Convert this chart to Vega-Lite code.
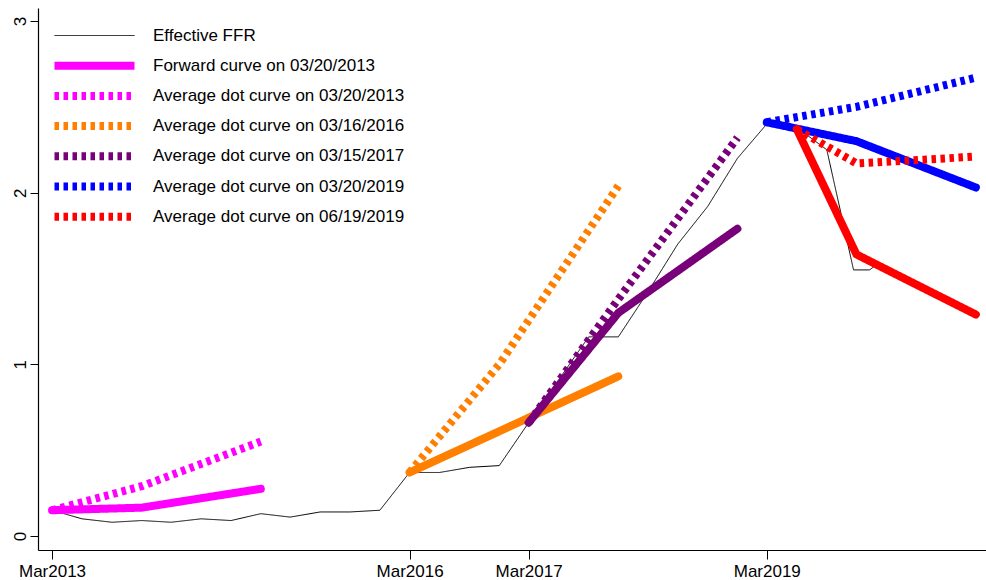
{
  "$schema": "https://vega.github.io/schema/vega-lite/v6.json",
  "width": 948,
  "height": 542,
  "autosize": {"type": "none"},
  "padding": {"left": 38, "top": 8, "right": 0, "bottom": 30},
  "background": "white",
  "config": {
    "view": {"stroke": null},
    "font": "Liberation Sans",
    "axis": {
      "grid": false,
      "title": null,
      "domainColor": "#000000",
      "domainWidth": 1.2,
      "tickColor": "#000000",
      "tickWidth": 1,
      "labelColor": "#000000",
      "labelFont": "Liberation Sans",
      "labelFontSize": 17
    }
  },
  "data": {
    "values": [
      {"series": "Effective FFR", "kind": "Effective", "date": "2013-03-01", "rate": 0.15},
      {"series": "Effective FFR", "kind": "Effective", "date": "2013-06-01", "rate": 0.10},
      {"series": "Effective FFR", "kind": "Effective", "date": "2013-09-01", "rate": 0.08},
      {"series": "Effective FFR", "kind": "Effective", "date": "2013-12-01", "rate": 0.09},
      {"series": "Effective FFR", "kind": "Effective", "date": "2014-03-01", "rate": 0.08},
      {"series": "Effective FFR", "kind": "Effective", "date": "2014-06-01", "rate": 0.10},
      {"series": "Effective FFR", "kind": "Effective", "date": "2014-09-01", "rate": 0.09},
      {"series": "Effective FFR", "kind": "Effective", "date": "2014-12-01", "rate": 0.13},
      {"series": "Effective FFR", "kind": "Effective", "date": "2015-03-01", "rate": 0.11},
      {"series": "Effective FFR", "kind": "Effective", "date": "2015-06-01", "rate": 0.14},
      {"series": "Effective FFR", "kind": "Effective", "date": "2015-09-01", "rate": 0.14},
      {"series": "Effective FFR", "kind": "Effective", "date": "2015-12-01", "rate": 0.15},
      {"series": "Effective FFR", "kind": "Effective", "date": "2016-03-01", "rate": 0.37},
      {"series": "Effective FFR", "kind": "Effective", "date": "2016-06-01", "rate": 0.37},
      {"series": "Effective FFR", "kind": "Effective", "date": "2016-09-01", "rate": 0.40},
      {"series": "Effective FFR", "kind": "Effective", "date": "2016-12-01", "rate": 0.41},
      {"series": "Effective FFR", "kind": "Effective", "date": "2017-03-01", "rate": 0.66},
      {"series": "Effective FFR", "kind": "Effective", "date": "2017-06-01", "rate": 0.91},
      {"series": "Effective FFR", "kind": "Effective", "date": "2017-09-01", "rate": 1.16},
      {"series": "Effective FFR", "kind": "Effective", "date": "2017-12-01", "rate": 1.16},
      {"series": "Effective FFR", "kind": "Effective", "date": "2018-03-01", "rate": 1.42},
      {"series": "Effective FFR", "kind": "Effective", "date": "2018-06-01", "rate": 1.70},
      {"series": "Effective FFR", "kind": "Effective", "date": "2018-09-01", "rate": 1.92},
      {"series": "Effective FFR", "kind": "Effective", "date": "2018-12-01", "rate": 2.20},
      {"series": "Effective FFR", "kind": "Effective", "date": "2019-03-01", "rate": 2.40},
      {"series": "Effective FFR", "kind": "Effective", "date": "2019-06-01", "rate": 2.38},
      {"series": "Effective FFR", "kind": "Effective", "date": "2019-09-01", "rate": 2.25},
      {"series": "Effective FFR", "kind": "Effective", "date": "2019-11-22", "rate": 1.55},
      {"series": "Effective FFR", "kind": "Effective", "date": "2020-01-10", "rate": 1.55},
      {"series": "Effective FFR", "kind": "Effective", "date": "2020-02-01", "rate": 1.58},

      {"series": "Forward curve on 03/20/2013", "kind": "Forward", "date": "2013-03-01", "rate": 0.15},
      {"series": "Forward curve on 03/20/2013", "kind": "Forward", "date": "2013-12-01", "rate": 0.165},
      {"series": "Forward curve on 03/20/2013", "kind": "Forward", "date": "2014-12-01", "rate": 0.275},
      {"series": "Average dot curve on 03/20/2013", "kind": "Dot", "date": "2013-03-01", "rate": 0.15},
      {"series": "Average dot curve on 03/20/2013", "kind": "Dot", "date": "2013-12-01", "rate": 0.29},
      {"series": "Average dot curve on 03/20/2013", "kind": "Dot", "date": "2014-12-01", "rate": 0.55},

      {"series": "Forward curve on 03/16/2016", "kind": "Forward", "date": "2016-03-01", "rate": 0.37},
      {"series": "Forward curve on 03/16/2016", "kind": "Forward", "date": "2016-12-01", "rate": 0.61},
      {"series": "Forward curve on 03/16/2016", "kind": "Forward", "date": "2017-12-01", "rate": 0.93},
      {"series": "Average dot curve on 03/16/2016", "kind": "Dot", "date": "2016-03-01", "rate": 0.37},
      {"series": "Average dot curve on 03/16/2016", "kind": "Dot", "date": "2016-12-01", "rate": 1.0},
      {"series": "Average dot curve on 03/16/2016", "kind": "Dot", "date": "2017-12-01", "rate": 2.04},

      {"series": "Forward curve on 03/15/2017", "kind": "Forward", "date": "2017-03-01", "rate": 0.66},
      {"series": "Forward curve on 03/15/2017", "kind": "Forward", "date": "2017-12-01", "rate": 1.30},
      {"series": "Forward curve on 03/15/2017", "kind": "Forward", "date": "2018-12-01", "rate": 1.79},
      {"series": "Average dot curve on 03/15/2017", "kind": "Dot", "date": "2017-03-01", "rate": 0.66},
      {"series": "Average dot curve on 03/15/2017", "kind": "Dot", "date": "2017-12-01", "rate": 1.38},
      {"series": "Average dot curve on 03/15/2017", "kind": "Dot", "date": "2018-12-01", "rate": 2.32},

      {"series": "Forward curve on 03/20/2019", "kind": "Forward", "date": "2019-03-01", "rate": 2.41},
      {"series": "Forward curve on 03/20/2019", "kind": "Forward", "date": "2019-12-01", "rate": 2.30},
      {"series": "Forward curve on 03/20/2019", "kind": "Forward", "date": "2020-12-01", "rate": 2.03},
      {"series": "Average dot curve on 03/20/2019", "kind": "Dot", "date": "2019-03-01", "rate": 2.41},
      {"series": "Average dot curve on 03/20/2019", "kind": "Dot", "date": "2019-12-01", "rate": 2.50},
      {"series": "Average dot curve on 03/20/2019", "kind": "Dot", "date": "2020-12-01", "rate": 2.67},

      {"series": "Forward curve on 06/19/2019", "kind": "Forward", "date": "2019-06-01", "rate": 2.37},
      {"series": "Forward curve on 06/19/2019", "kind": "Forward", "date": "2019-12-01", "rate": 1.64},
      {"series": "Forward curve on 06/19/2019", "kind": "Forward", "date": "2020-12-01", "rate": 1.29},
      {"series": "Average dot curve on 06/19/2019", "kind": "Dot", "date": "2019-06-01", "rate": 2.37},
      {"series": "Average dot curve on 06/19/2019", "kind": "Dot", "date": "2019-12-01", "rate": 2.17},
      {"series": "Average dot curve on 06/19/2019", "kind": "Dot", "date": "2020-12-01", "rate": 2.21}
    ]
  },
  "encoding": {
    "x": {
      "field": "date",
      "type": "temporal",
      "scale": {
        "type": "utc",
        "domain": [
          {"year": 2013, "month": 1, "date": 17, "utc": true},
          {"year": 2021, "month": 1, "date": 1, "utc": true}
        ]
      },
      "axis": {
        "values": [
          {"year": 2013, "month": 3, "date": 1, "utc": true},
          {"year": 2016, "month": 3, "date": 1, "utc": true},
          {"year": 2017, "month": 3, "date": 1, "utc": true},
          {"year": 2019, "month": 3, "date": 1, "utc": true}
        ],
        "format": "%b%Y",
        "tickSize": 9,
        "labelPadding": 4,
        "labelFlush": false,
        "labelOverlap": false
      }
    },
    "y": {
      "field": "rate",
      "type": "quantitative",
      "scale": {"domain": [-0.0816, 3.0757], "nice": false, "zero": false},
      "axis": {
        "values": [0, 1, 2, 3],
        "tickSize": 8,
        "labelAngle": 270,
        "labelAlign": "center",
        "labelBaseline": "bottom",
        "labelPadding": 1
      }
    },
    "color": {
      "field": "series",
      "type": "nominal",
      "scale": {
        "domain": [
          "Effective FFR",
          "Forward curve on 03/20/2013",
          "Average dot curve on 03/20/2013",
          "Average dot curve on 03/16/2016",
          "Average dot curve on 03/15/2017",
          "Average dot curve on 03/20/2019",
          "Average dot curve on 06/19/2019",
          "Forward curve on 03/16/2016",
          "Forward curve on 03/15/2017",
          "Forward curve on 03/20/2019",
          "Forward curve on 06/19/2019"
        ],
        "range": ["#000000", "#FF00FF", "#FF00FF", "#FF7F00", "#780078", "#0000FF", "#FF0000", "#FF7F00", "#780078", "#0000FF", "#FF0000"]
      },
      "legend": {
        "title": null,
        "orient": "none",
        "legendX": 17,
        "legendY": 19,
        "padding": 0,
        "values": [
          "Effective FFR",
          "Forward curve on 03/20/2013",
          "Average dot curve on 03/20/2013",
          "Average dot curve on 03/16/2016",
          "Average dot curve on 03/15/2017",
          "Average dot curve on 03/20/2019",
          "Average dot curve on 06/19/2019"
        ],
        "symbolType": "stroke",
        "symbolSize": 6400,
        "symbolStrokeWidth": 8,
        "symbolOffset": 31,
        "labelFont": "Liberation Sans",
        "labelFontSize": 17,
        "labelColor": "#000000",
        "labelOffset": 50,
        "labelLimit": 0,
        "rowPadding": 12.2,
        "encode": {
          "symbols": {"update": {
            "strokeWidth": {"signal": "datum.value === 'Effective FFR' ? 1 : 8"},
            "strokeJoin": {"value": "round"}
          }}
        }
      }
    },
    "strokeDash": {
      "field": "series",
      "type": "nominal",
      "scale": {
        "domain": [
          "Effective FFR",
          "Forward curve on 03/20/2013",
          "Average dot curve on 03/20/2013",
          "Average dot curve on 03/16/2016",
          "Average dot curve on 03/15/2017",
          "Average dot curve on 03/20/2019",
          "Average dot curve on 06/19/2019",
          "Forward curve on 03/16/2016",
          "Forward curve on 03/15/2017",
          "Forward curve on 03/20/2019",
          "Forward curve on 06/19/2019"
        ],
        "range": [[1, 0], [1, 0], [4.5, 4.5], [4.5, 4.5], [4.5, 4.5], [4.5, 4.5], [4.5, 4.5], [1, 0], [1, 0], [1, 0], [1, 0]]
      },
      "legend": {
        "title": null,
        "orient": "none",
        "legendX": 17,
        "legendY": 19,
        "padding": 0,
        "values": [
          "Effective FFR",
          "Forward curve on 03/20/2013",
          "Average dot curve on 03/20/2013",
          "Average dot curve on 03/16/2016",
          "Average dot curve on 03/15/2017",
          "Average dot curve on 03/20/2019",
          "Average dot curve on 06/19/2019"
        ],
        "symbolType": "stroke",
        "symbolSize": 6400,
        "symbolStrokeWidth": 8,
        "symbolOffset": 31,
        "labelFont": "Liberation Sans",
        "labelFontSize": 17,
        "labelColor": "#000000",
        "labelOffset": 50,
        "labelLimit": 0,
        "rowPadding": 12.2,
        "encode": {
          "symbols": {"update": {
            "strokeWidth": {"signal": "datum.value === 'Effective FFR' ? 1 : 8"},
            "strokeJoin": {"value": "round"}
          }}
        }
      }
    }
  },
  "layer": [
    {
      "transform": [{"filter": "datum.kind === 'Effective'"}],
      "mark": {"type": "line", "strokeWidth": 1, "strokeJoin": "miter"}
    },
    {
      "transform": [{"filter": "datum.kind === 'Dot' && datum.series !== 'Average dot curve on 06/19/2019'"}],
      "mark": {"type": "line", "strokeWidth": 8, "strokeCap": "butt", "strokeJoin": "miter"}
    },
    {
      "transform": [{"filter": "datum.kind === 'Forward' && datum.series !== 'Forward curve on 06/19/2019'"}],
      "mark": {"type": "line", "strokeWidth": 8, "strokeCap": "round", "strokeJoin": "round"}
    },
    {
      "transform": [{"filter": "datum.series === 'Average dot curve on 06/19/2019'"}],
      "mark": {"type": "line", "strokeWidth": 8, "strokeCap": "butt", "strokeJoin": "miter"}
    },
    {
      "transform": [{"filter": "datum.series === 'Forward curve on 06/19/2019'"}],
      "mark": {"type": "line", "strokeWidth": 8, "strokeCap": "round", "strokeJoin": "round"}
    }
  ]
}
